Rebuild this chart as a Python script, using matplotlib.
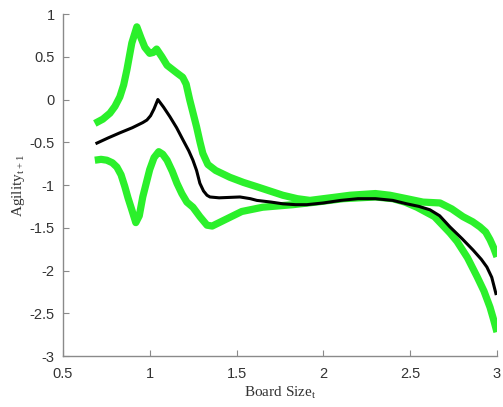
import matplotlib
matplotlib.use('Agg')
import matplotlib.pyplot as plt

# estimated curve and its upper/lower bounds
x_mid = [0.696, 0.76, 0.828, 0.9, 0.96, 0.984, 1.005, 1.025, 1.047, 1.08, 1.116, 1.155,
         1.191, 1.225, 1.249, 1.27, 1.289, 1.31, 1.33, 1.347, 1.4, 1.52, 1.58, 1.617,
         1.7, 1.767, 1.84, 1.905, 2.0, 2.1, 2.2, 2.3, 2.4, 2.48, 2.55, 2.614, 2.67,
         2.729, 2.8, 2.862, 2.91, 2.942, 2.97, 2.994]
y_mid = [-0.51, -0.45, -0.39, -0.33, -0.27, -0.24, -0.19, -0.11, 0.0, -0.09, -0.2, -0.33,
         -0.47, -0.6, -0.71, -0.83, -0.98, -1.07, -1.12, -1.14, -1.15, -1.14, -1.16, -1.18,
         -1.2, -1.22, -1.23, -1.23, -1.21, -1.18, -1.16, -1.16, -1.18, -1.22, -1.25, -1.29, -1.36,
         -1.49, -1.63, -1.76, -1.87, -1.96, -2.08, -2.27]

x_up = [0.684, 0.73, 0.771, 0.80, 0.828, 0.85, 0.869, 0.897, 0.926, 0.95, 0.972, 1.0,
        1.02, 1.04, 1.07, 1.10, 1.157, 1.19, 1.21, 1.23, 1.25, 1.27, 1.29, 1.306,
        1.335, 1.38, 1.462, 1.54, 1.617, 1.767, 1.85, 1.923, 2.0, 2.078, 2.153,
        2.3, 2.384, 2.48, 2.574, 2.672, 2.74, 2.804, 2.86, 2.902, 2.935, 2.96, 2.98, 3.0]
y_up = [-0.28, -0.23, -0.16, -0.08, 0.03, 0.17, 0.35, 0.66, 0.85, 0.72, 0.61, 0.54,
        0.55, 0.59, 0.5, 0.40, 0.31, 0.26, 0.18, 0.0, -0.16, -0.32, -0.5, -0.63,
        -0.76, -0.83, -0.91, -0.97, -1.02, -1.12, -1.16, -1.18, -1.16, -1.14, -1.12,
        -1.1, -1.12, -1.16, -1.20, -1.21, -1.28, -1.37, -1.43, -1.49, -1.55, -1.64, -1.73, -1.84]

x_lo = [0.684, 0.72, 0.753, 0.785, 0.811, 0.835, 0.857, 0.875, 0.897, 0.92, 0.94, 0.96,
        0.98, 1.0, 1.025, 1.052, 1.075, 1.10, 1.13, 1.157, 1.185, 1.214, 1.249, 1.289,
        1.33, 1.36, 1.42, 1.53, 1.65, 1.825, 1.958, 2.115, 2.3, 2.4, 2.47,
        2.539, 2.64, 2.729, 2.77, 2.83, 2.885, 2.925, 2.96, 2.98, 3.0]
y_lo = [-0.71, -0.70, -0.71, -0.74, -0.79, -0.88, -1.02, -1.15, -1.29, -1.44, -1.36, -1.14,
        -0.98, -0.82, -0.68, -0.61, -0.64, -0.71, -0.84, -0.98, -1.10, -1.20, -1.26, -1.37,
        -1.47, -1.48, -1.42, -1.31, -1.26, -1.23, -1.2, -1.16, -1.14, -1.16, -1.2,
        -1.26, -1.37, -1.56, -1.66, -1.85, -2.07, -2.24, -2.43, -2.57, -2.72]

xticks = [0.5, 1, 1.5, 2, 2.5, 3]
yticks = [1, 0.5, 0, -0.5, -1, -1.5, -2, -2.5, -3]

fig = plt.figure(figsize=(5.03, 4.07), dpi=100)
ax = fig.add_axes([0.125, 0.1253, 0.863, 0.8403])

ax.plot(x_up, y_up, color='#2bf02b', lw=5.2, solid_capstyle='butt', solid_joinstyle='round')
ax.plot(x_lo, y_lo, color='#2bf02b', lw=5.2, solid_capstyle='butt', solid_joinstyle='round')
ax.plot(x_mid, y_mid, color='black', lw=2.2, solid_joinstyle='round')

ax.set_xlim(0.5, 3)
ax.set_ylim(-3, 1)
ax.set_xticks(xticks)
ax.set_xticklabels([f'{v:g}' for v in xticks])
ax.set_yticks(yticks)
ax.set_yticklabels([f'{v:g}' for v in yticks])

for side in ['top', 'right']:
    ax.spines[side].set_visible(False)
for side in ['left', 'bottom']:
    ax.spines[side].set_color('#8a8a8a')
    ax.spines[side].set_linewidth(1.0)
ax.tick_params(direction='in', length=4, color='#8a8a8a', labelcolor='#333333',
               labelsize=10.5)
ax.tick_params(axis='x', pad=8)
ax.tick_params(axis='y', pad=6)
for lbl in ax.get_xticklabels() + ax.get_yticklabels():
    lbl.set_family('Liberation Sans')

ax.set_xlabel('Board Size$_\\mathregular{t}$', family='Liberation Serif', fontsize=11,
              color='#333333', labelpad=2)
ax.set_ylabel('Agility$_\\mathregular{t+1}$', family='Liberation Serif', fontsize=11,
              color='#333333', labelpad=2)

fig.savefig('out.png', dpi=100)
